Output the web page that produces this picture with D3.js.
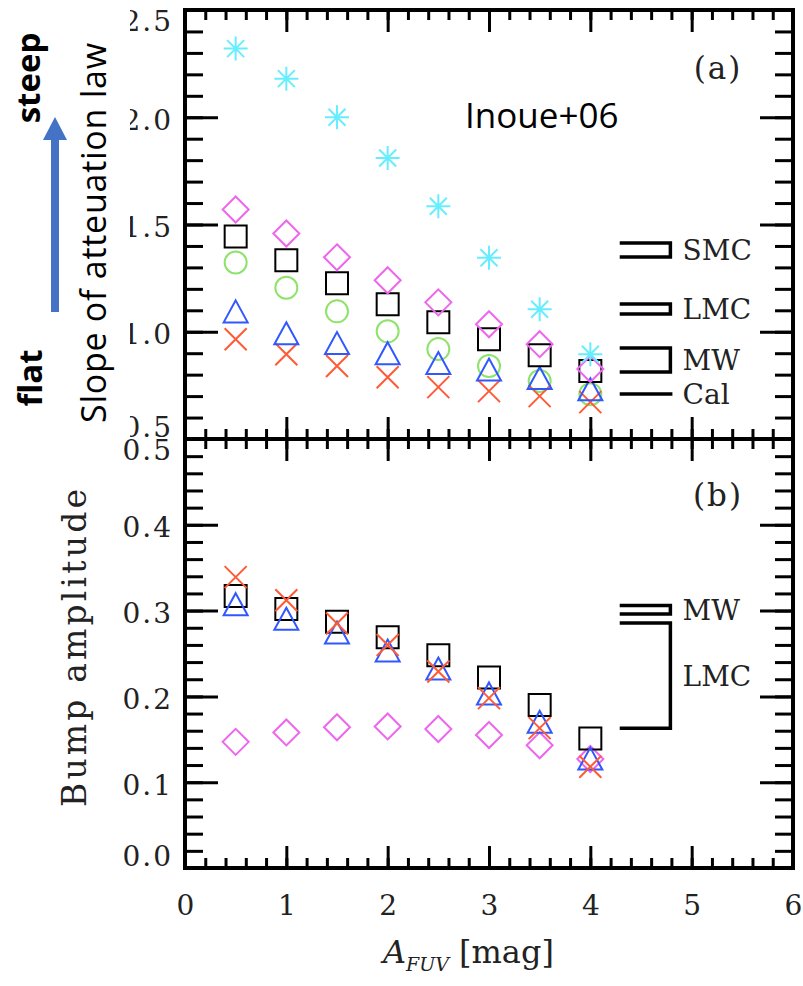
<!DOCTYPE html>
<html>
<head>
<meta charset="utf-8">
<script src="https://cdn.jsdelivr.net/npm/d3@7"></script>
<style>
    body { margin: 0; background: #fff; }
    .tickLbl text { font-family: "DejaVu Serif", serif; font-size: 28px; fill: #222; letter-spacing: 2px; }
    .refText { font-family: "DejaVu Serif", serif; font-size: 28px; fill: #222; }
</style>
</head>
<body>
<div id="chart"></div>
<script>
var svgWidth = 803;
var svgHeight = 986;

// A_FUV values of the model points
var aFUV = [0.5, 1.0, 1.5, 2.0, 2.5, 3.0, 3.5, 4.0];

// panel (a): slope of attenuation law
var slopeStar = [2.32, 2.18, 2.00, 1.81, 1.585, 1.345, 1.105, 0.895];
var slopeDiamond = [1.57, 1.458, 1.347, 1.24, 1.137, 1.035, 0.942, 0.826];
var slopeSquare = [1.444, 1.333, 1.226, 1.128, 1.044, 0.965, 0.891, 0.817];
var slopeCircle = [1.323, 1.205, 1.095, 1.002, 0.919, 0.84, 0.77, 0.709];
var slopeTriangle = [1.081, 0.979, 0.933, 0.886, 0.84, 0.81, 0.77, 0.718];
var slopeCross = [0.965, 0.895, 0.84, 0.788, 0.742, 0.723, 0.70, 0.672];

// panel (b): bump amplitude
var bumpCross = [0.339, 0.312, 0.285, 0.260, 0.229, 0.198, 0.163, 0.118];
var bumpSquare = [0.317, 0.302, 0.287, 0.269, 0.248, 0.222, 0.190, 0.151];
var bumpTriangle = [0.304, 0.287, 0.271, 0.250, 0.229, 0.200, 0.167, 0.124];
var bumpDiamond = [0.147, 0.158, 0.164, 0.165, 0.162, 0.155, 0.143, 0.127];

// reference ranges of local extinction laws
var refTopLabels = ["SMC", "LMC", "MW", "Cal"];
var refTopHigh = [1.414, 1.129, 0.924, 0.710];
var refTopLow = [1.348, 1.083, 0.812, 0.710];
var refBotLabels = ["MW", "LMC"];
var refBotHigh = [0.306, 0.2855];
var refBotLow = [0.296, 0.163];

// tick values
var xMajor = [0, 1, 2, 3, 4, 5, 6];
var xMinor = d3.range(0, 31).map(d => d / 5);
var yTopMajor = [0.5, 1.0, 1.5, 2.0, 2.5];
var yTopMinor = d3.range(5, 26).map(d => d / 10);
var yBotMajor = [0.0, 0.1, 0.2, 0.3, 0.4, 0.5];
var yBotMinor = d3.range(0, 26).map(d => d / 50);

var svg = d3.select("#chart")
    .append("svg")
    .attr("width", svgWidth)
    .attr("height", svgHeight);

var x = d3.scaleLinear().domain([0, 6]).range([185, 793]);
var yTop = d3.scaleLinear().domain([0.5, 2.5]).range([439, 10]);
var yBot = d3.scaleLinear().domain([0, 0.5]).range([868, 439]);

// marker shapes
var shapes = {
    square: "M-11,-11h22v22h-22Z",
    circle: "M11,0A11,11 0 1,1 -11,0A11,11 0 1,1 11,0Z",
    diamond: "M0,-13L13,0L0,13L-13,0Z",
    triangle: "M0,-14L12,8L-12,8Z",
    cross: "M-11,-11L11,11M-11,11L11,-11",
    star: "M-12,0H12M0,-12V12M-8.5,-8.5L8.5,8.5M-8.5,8.5L8.5,-8.5"
};

function drawSeries(vals, yScale, shape, color) {
    svg.append("g")
        .selectAll("path")
        .data(vals)
        .enter()
        .append("path")
        .attr("transform", (d, i) => `translate(${x(aFUV[i])},${yScale(d)})`)
        .attr("d", shapes[shape])
        .attr("fill", "none")
        .attr("stroke", color)
        .attr("stroke-width", 2);
}

function drawPanel(yScale, yMajor, yMinor, showXLabels) {
    var y0 = yScale.range()[0];
    var y1 = yScale.range()[1];
    var g = svg.append("g").attr("class", "tickLbl");

    // left axis with labels
    var left = g.append("g")
        .attr("transform", "translate(185,0)")
        .call(d3.axisLeft(yScale).tickValues(yMajor).tickSize(-33).tickPadding(12)
            .tickFormat(d3.format(".1f")));
    g.append("g")
        .attr("transform", "translate(185,0)")
        .call(d3.axisLeft(yScale).tickValues(yMinor).tickSize(-18).tickFormat(""));

    // right axis
    g.append("g")
        .attr("transform", "translate(793,0)")
        .call(d3.axisRight(yScale).tickValues(yMajor).tickSize(-33).tickFormat(""));
    g.append("g")
        .attr("transform", "translate(793,0)")
        .call(d3.axisRight(yScale).tickValues(yMinor).tickSize(-18).tickFormat(""));

    // top axis
    g.append("g")
        .attr("transform", `translate(0,${y1})`)
        .call(d3.axisTop(x).tickValues(xMajor).tickSize(-22).tickFormat(""));
    g.append("g")
        .attr("transform", `translate(0,${y1})`)
        .call(d3.axisTop(x).tickValues(xMinor).tickSize(-10).tickFormat(""));

    // bottom axis
    var bottom = g.append("g")
        .attr("transform", `translate(0,${y0})`)
        .call(d3.axisBottom(x).tickValues(xMajor).tickSize(-22).tickPadding(27)
            .tickFormat(showXLabels ? d3.format("d") : ""));
    g.append("g")
        .attr("transform", `translate(0,${y0})`)
        .call(d3.axisBottom(x).tickValues(xMinor).tickSize(-10).tickFormat(""));

    g.selectAll(".domain").remove();
    g.selectAll(".tick line").attr("stroke", "#000").attr("stroke-width", 3);
    bottom.selectAll("text").attr("dx", "1px");

    // keep edge labels inside the panel
    var dom = yScale.domain();
    left.selectAll(".tick text")
        .attr("transform", d => d === dom[1] ? "translate(0,12)" : (d === dom[0] ? "translate(0,-11)" : "translate(0,3)"));

    // frame
    svg.append("rect")
        .attr("x", 185)
        .attr("y", y1)
        .attr("width", 608)
        .attr("height", y0 - y1)
        .attr("fill", "none")
        .attr("stroke", "#000")
        .attr("stroke-width", 4);
}

function drawRefs(labels, hi, lo, yScale) {
    var g = svg.append("g");
    labels.forEach((lbl, i) => {
        var yh = yScale(hi[i]);
        var yl = yScale(lo[i]);
        var pathStr = hi[i] === lo[i]
            ? `M${x(4.29)},${yh}H${x(4.81)}`
            : `M${x(4.29)},${yh}H${x(4.79)}V${yl}H${x(4.29)}`;
        g.append("path")
            .attr("d", pathStr)
            .attr("fill", "none")
            .attr("stroke", "#000")
            .attr("stroke-width", 3.5);
        g.append("text")
            .classed("refText", true)
            .attr("x", x(4.91))
            .attr("y", (yh + yl) / 2)
            .attr("dy", "0.36em")
            .text(lbl);
    });
}

drawPanel(yTop, yTopMajor, yTopMinor, false);
drawPanel(yBot, yBotMajor, yBotMinor, true);

// bottom panel's 0.5 label sits just below the shared edge
svg.selectAll(".tickLbl").filter((d, i) => i === 1)
    .selectAll(".tick text").filter(d => d === 0.5)
    .attr("transform", "translate(0,12)");

drawRefs(refTopLabels, refTopHigh, refTopLow, yTop);
drawRefs(refBotLabels, refBotHigh, refBotLow, yBot);

// panel (a) points
drawSeries(slopeCircle, yTop, "circle", "#8ee36a");
drawSeries(slopeCross, yTop, "cross", "#ff5a36");
drawSeries(slopeTriangle, yTop, "triangle", "#3157ff");
drawSeries(slopeSquare, yTop, "square", "#000");
drawSeries(slopeDiamond, yTop, "diamond", "#ee66ee");
drawSeries(slopeStar, yTop, "star", "#66eeff");

// panel (b) points
drawSeries(bumpDiamond, yBot, "diamond", "#ee66ee");
drawSeries(bumpSquare, yBot, "square", "#000");
drawSeries(bumpTriangle, yBot, "triangle", "#3157ff");
drawSeries(bumpCross, yBot, "cross", "#ff5a36");

// panel tags
svg.append("text")
    .classed("refText", true)
    .attr("x", 718).attr("y", 79)
    .attr("text-anchor", "middle")
    .style("font-size", "31px")
    .style("letter-spacing", "2px")
    .text("(a)");
svg.append("text")
    .classed("refText", true)
    .attr("x", 718).attr("y", 506)
    .attr("text-anchor", "middle")
    .style("font-size", "31px")
    .style("letter-spacing", "2px")
    .text("(b)");

// y title of panel (b)
svg.append("text")
    .attr("transform", "translate(86,648) rotate(-90)")
    .attr("text-anchor", "middle")
    .attr("textLength", 318)
    .style("font-family", "DejaVu Serif, serif")
    .style("font-size", "33px")
    .style("fill", "#222")
    .text("Bump amplitude");

// x title
var xt = svg.append("text")
    .attr("x", 383)
    .attr("y", 963)
    .style("font-family", "DejaVu Serif, serif")
    .style("font-size", "32px")
    .style("fill", "#222");
xt.append("tspan").style("font-style", "italic").text("A");
xt.append("tspan").attr("dy", 8).style("font-style", "italic").style("font-size", "19px").text("FUV");
xt.append("tspan").attr("dy", -8).attr("dx", 10).text("[mag]");

// slide overlay: white box hiding part of the top labels
svg.append("rect")
    .attr("x", 0).attr("y", 0)
    .attr("width", 130).attr("height", 437)
    .attr("fill", "#fff");

svg.append("text")
    .attr("transform", "translate(106,233) rotate(-90)")
    .attr("text-anchor", "middle")
    .attr("textLength", 380)
    .style("font-family", "Open Sans, sans-serif")
    .style("font-size", "34px")
    .text("Slope of atteuation law");

svg.append("text")
    .attr("transform", "translate(40,78) rotate(-90)")
    .attr("text-anchor", "middle")
    .style("font-family", "Open Sans, sans-serif")
    .style("font-weight", "bold")
    .style("font-size", "33px")
    .text("steep");

svg.append("text")
    .attr("transform", "translate(42,378) rotate(-90)")
    .attr("text-anchor", "middle")
    .style("font-family", "Open Sans, sans-serif")
    .style("font-weight", "bold")
    .style("font-size", "33px")
    .text("flat");

// arrow flat -> steep
svg.append("path")
    .attr("d", "M51,312V140H43L55,117L67,140H59V312Z")
    .attr("fill", "#4472c4");

svg.append("text")
    .attr("x", 465)
    .attr("y", 128)
    .style("font-family", "Open Sans, sans-serif")
    .style("font-size", "35px")
    .text("Inoue+06");
</script>
</body>
</html>
